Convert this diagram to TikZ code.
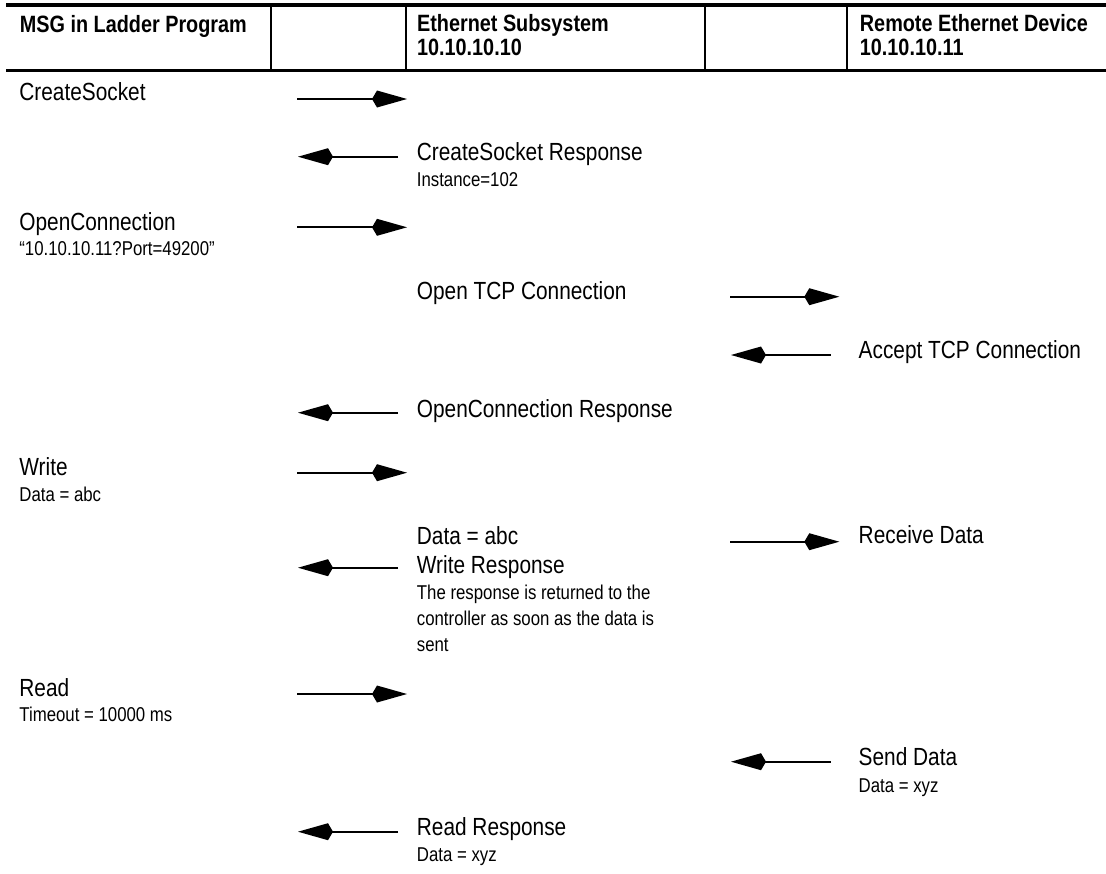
\documentclass[tikz,border=0pt]{standalone}
\usepackage{fontspec}
\setmainfont{Liberation Sans}[FakeStretch=0.84]
\usetikzlibrary{arrows.meta,positioning}

\begin{document}
\begin{tikzpicture}[
        x=0.5pt, y=-0.5pt,
        title/.style={
            anchor=base west,
            inner sep=0pt,
            align=left,
            font=\fontsize{11.8}{11.65}\selectfont\bfseries
        },
        event/.style={
            anchor=base west,
            inner sep=0pt,
            align=left,
            font=\fontsize{12.4}{14.5}\selectfont
        },
        detail/.style={
            anchor=base west,
            inner sep=0pt,
            align=left,
            font=\fontsize{10}{13}\selectfont
        },
        hrule/.style={line width=1.6pt},
        divider/.style={line width=1pt},
        arrow/.style={-{Kite[length=17.5pt,width=8.5pt,inset=2.5pt]}, line width=1pt}
    ]
        \useasboundingbox (0,0) rectangle (1106,873);

        % header table
        \coordinate (tl) at (6,5);
        \coordinate (tr) at (1106,5);
        \coordinate (bl) at (6,70.7);
        \coordinate (br) at (1106,70.7);
        \draw[hrule] (tl) -- (tr);
        \draw[hrule] (bl) -- (br);
        \foreach \x in {271,405.5,705,847} {
            \draw[divider] (\x,5) -- (\x,70.7);
        }
        % multi-line nodes sit on the baseline of their last line
        \node[title] (msg) at (19.5,32) {MSG in Ladder Program};
        \node[title] (subsys) at (416.7,55) {Ethernet Subsystem\\10.10.10.10};
        \node[title] (remote) at (859.5,55) {Remote Ethernet Device\\10.10.10.11};

        % ladder program side
        \node[event] (create) at (19,100.7) {CreateSocket};
        \node[event] (open) at (19,230) {OpenConnection};
        \node[detail] (opend) at (19,255) {“10.10.10.11?Port=49200”};
        \node[event] (write) at (19,475) {Write};
        \node[detail] (writed) at (19,501.7) {Data = abc};
        \node[event] (read) at (19,696) {Read};
        \node[detail] (readd) at (19,721.7) {Timeout = 10000 ms};

        % ethernet subsystem side
        \node[event] (createresp) at (416.5,160) {CreateSocket Response};
        \node[detail] (createrespd) at (416.5,186) {Instance=102};
        \node[event] (tcpopen) at (416.5,299.3) {Open TCP Connection};
        \node[event] (openresp) at (416.5,417) {OpenConnection Response};
        \node[event] (writeresp) at (416.5,573.3) {Data = abc\\Write Response};
        \node[detail] (writerespd) at (416.5,651.7) {The response is returned to the\\controller as soon as the data is\\sent};
        \node[event] (readresp) at (416.5,835) {Read Response};
        \node[detail] (readrespd) at (416.5,861) {Data = xyz};

        % remote device side
        \node[event] (accept) at (858.3,358.3) {Accept TCP Connection};
        \node[event] (recv) at (858.3,543) {Receive Data};
        \node[event] (send) at (858.3,765.7) {Send Data};
        \node[detail] (sendd) at (858.3,792) {Data = xyz};

        % messages
        \foreach \name/\y in {create/99,open/227.3,write/472.7,read/694} {
            \coordinate (\name-from) at (297,\y);
            \coordinate (\name-to) at (407,\y);
            \draw[arrow] (\name-from) -- (\name-to);
        }
        \foreach \name/\y in {createresp/156.7,openresp/412.7,writeresp/567.7,readresp/831.7} {
            \coordinate (\name-from) at (398,\y);
            \coordinate (\name-to) at (298,\y);
            \draw[arrow] (\name-from) -- (\name-to);
        }
        \foreach \name/\y in {tcpopen/296.7,recv/541.7} {
            \coordinate (\name-from) at (730,\y);
            \coordinate (\name-to) at (839.3,\y);
            \draw[arrow] (\name-from) -- (\name-to);
        }
        \foreach \name/\y in {accept/355,send/761.7} {
            \coordinate (\name-from) at (830.7,\y);
            \coordinate (\name-to) at (731,\y);
            \draw[arrow] (\name-from) -- (\name-to);
        }
    \end{tikzpicture}
\end{document}
